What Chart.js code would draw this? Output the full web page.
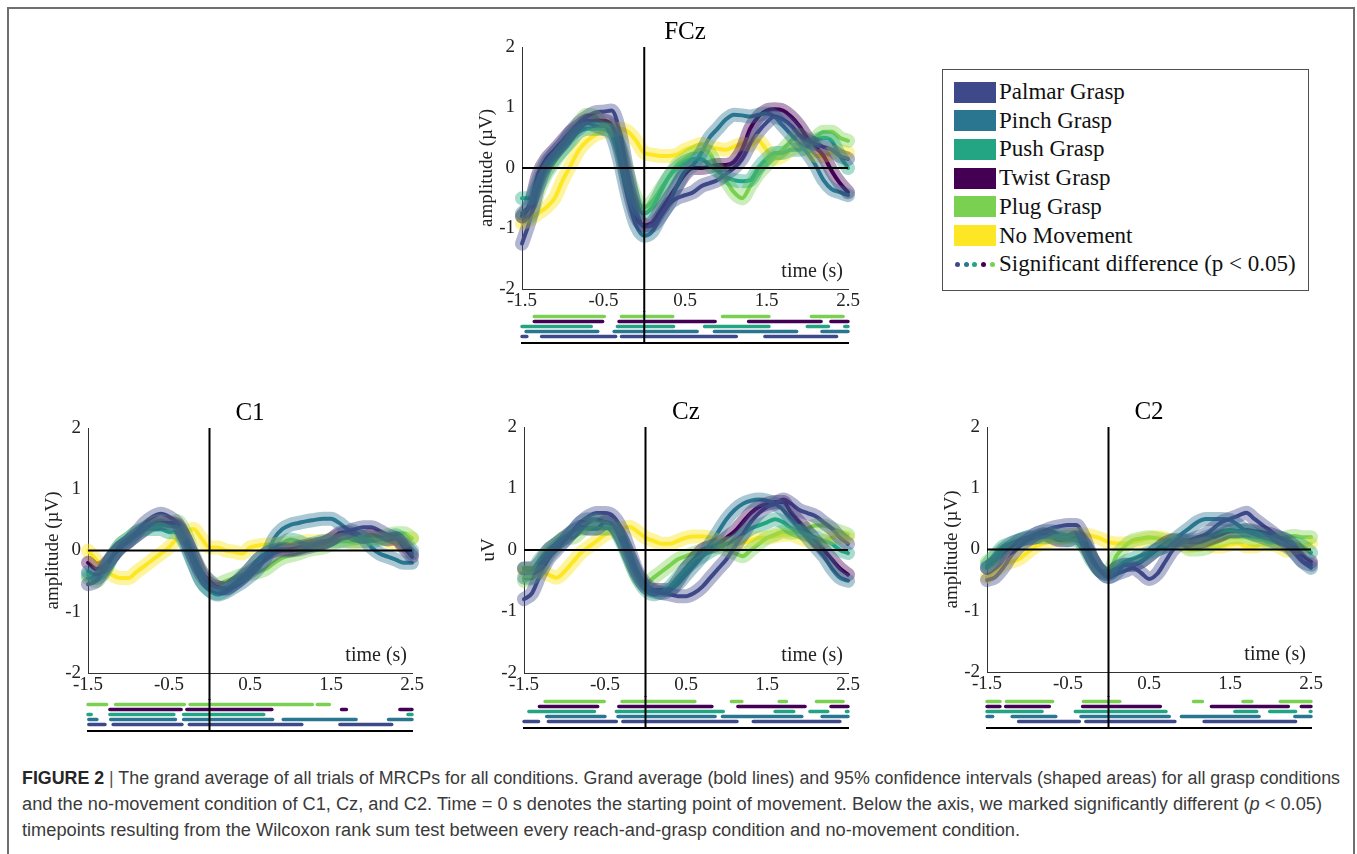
<!DOCTYPE html>
<html>
<head>
<meta charset="utf-8">
<title>MRCP grand averages</title>
<script src="https://cdn.jsdelivr.net/npm/chart.js@4.4.1/dist/chart.umd.min.js"></script>
<style>
  html, body { margin: 0; padding: 0; background: #fff; }
  body { width: 1357px; height: 854px; position: relative; overflow: hidden; }
  #frame { position: absolute; left: 7px; top: 7px; width: 1348px; height: 870px;
           border: 2px solid #6f6f6f; box-sizing: border-box; }
  canvas { position: absolute; }
  #legend { position: absolute; left: 942px; top: 69px; width: 367px; height: 222px;
            border: 1.5px solid #505050; box-sizing: border-box; background: #fff;
            font-family: "Liberation Serif", "Times New Roman", serif; color: #111; }
  .lg-row { position: absolute; left: 0; height: 28px; display: flex; align-items: center; white-space: nowrap; font-size: 23px; }
  .lg-sw { position: absolute; left: 11px; width: 42px; height: 21px; }
  .lg-tx { position: absolute; left: 56px; line-height: 28px; }
  .lg-dot { position: absolute; width: 5px; height: 5px; border-radius: 50%; }
  #caption { position: absolute; left: 22px; top: 765px;
             font-family: "Liberation Sans Narrow", "Liberation Sans", Arial, sans-serif;
             font-size: 18px; color: #3a3a3a; }
  .cl { position: absolute; left: 0; white-space: nowrap; transform-origin: 0 50%; line-height: 26px; }
  .cl b { color: #262626; }
  .cl .sep { font-weight: normal; color: #555; }
</style>
</head>
<body>
<div id="frame"></div>

<div id="legend"></div>

<div id="caption">
  <div class="cl" id="cl1" style="top:0px"><b>FIGURE 2</b> <span class="sep">|</span> The grand average of all trials of MRCPs for all conditions. Grand average (bold lines) and 95% confidence intervals (shaped areas) for all grasp conditions</div>
  <div class="cl" id="cl2" style="top:26px">and the no-movement condition of C1, Cz, and C2. Time = 0 s denotes the starting point of movement. Below the axis, we marked significantly different (<i>p</i> &lt; 0.05)</div>
  <div class="cl" id="cl3" style="top:52px">timepoints resulting from the Wilcoxon rank sum test between every reach-and-grasp condition and no-movement condition.</div>
</div>

<script>
// ---------- time base and axis ticks ----------
const TIME = [-1.5,-1.4,-1.3,-1.2,-1.1,-1.0,-0.9,-0.8,-0.7,-0.6,-0.5,-0.4,-0.3,-0.2,-0.1,0.0,
              0.1,0.2,0.3,0.4,0.5,0.6,0.7,0.8,0.9,1.0,1.1,1.2,1.3,1.4,1.5,1.6,1.7,1.8,1.9,2.0,
              2.1,2.2,2.3,2.4,2.5];
const X_TICKS = [-1.5, -0.5, 0.5, 1.5, 2.5];
const X_TICK_LABELS = ['-1.5', '-0.5', '0.5', '1.5', '2.5'];
const Y_TICKS = [-2, -1, 0, 1, 2];
const Y_TICK_LABELS = ['-2', '-1', '0', '1', '2'];

// ---------- conditions ----------
const CONDITIONS = ['Palmar Grasp', 'Pinch Grasp', 'Push Grasp', 'Twist Grasp', 'Plug Grasp', 'No Movement'];
const COND_COLORS = ['#3e4989', '#2a7690', '#23a584', '#440154', '#7ad151', '#fde725'];

// ---------- grand averages (µV) ----------
const FCZ_PALMAR = [-1.25,-0.85,-0.3,0.05,0.25,0.4,0.6,0.75,0.85,0.92,0.93,0.95,0.6,-0.1,-0.7,-0.97,-0.95,-0.8,-0.6,-0.5,-0.45,-0.4,-0.3,-0.25,-0.2,-0.1,0.0,0.15,0.4,0.6,0.75,0.85,0.8,0.7,0.55,0.45,0.4,0.35,0.3,0.2,0.15];
const FCZ_PINCH  = [-0.75,-0.6,-0.2,0.1,0.25,0.4,0.55,0.65,0.75,0.7,0.65,0.55,0.1,-0.5,-0.95,-1.12,-1.05,-0.8,-0.6,-0.3,-0.05,0.05,0.25,0.5,0.65,0.8,0.88,0.87,0.85,0.88,0.9,0.85,0.7,0.55,0.4,0.25,0.05,-0.2,-0.35,-0.4,-0.45];
const FCZ_PUSH   = [-0.5,-0.5,-0.3,-0.05,0.15,0.3,0.45,0.6,0.65,0.65,0.65,0.6,0.35,-0.2,-0.6,-0.75,-0.65,-0.4,-0.15,0.0,0.1,0.15,0.15,0.05,-0.05,-0.15,-0.2,-0.22,-0.2,0.0,0.15,0.25,0.25,0.3,0.3,0.35,0.45,0.5,0.45,0.2,0.0];
const FCZ_TWIST  = [-0.8,-0.6,-0.1,0.15,0.3,0.45,0.6,0.7,0.78,0.78,0.78,0.7,0.3,-0.3,-0.8,-0.95,-0.9,-0.7,-0.5,-0.3,-0.1,0.0,0.0,0.02,0.05,0.05,0.1,0.3,0.65,0.85,0.95,0.97,0.95,0.85,0.7,0.5,0.35,0.2,-0.05,-0.25,-0.4];
const FCZ_PLUG   = [-0.8,-0.8,-0.4,-0.1,0.1,0.3,0.5,0.75,0.88,0.85,0.72,0.7,0.4,-0.1,-0.5,-0.65,-0.55,-0.35,-0.15,0.05,0.15,0.25,0.3,0.25,0.0,-0.2,-0.4,-0.5,-0.3,-0.1,0.05,0.2,0.3,0.45,0.55,0.45,0.5,0.6,0.6,0.5,0.45];
const FCZ_NOMOVE = [-0.92,-0.85,-0.75,-0.65,-0.5,-0.2,0.05,0.3,0.45,0.55,0.6,0.62,0.65,0.6,0.45,0.25,0.22,0.2,0.2,0.22,0.3,0.35,0.4,0.35,0.32,0.3,0.35,0.4,0.38,0.45,0.3,0.15,0.2,0.3,0.35,0.3,0.2,0.2,0.25,0.28,0.25];

const C1_PALMAR = [-0.55,-0.5,-0.3,-0.1,0.05,0.15,0.3,0.45,0.55,0.6,0.55,0.45,0.2,-0.1,-0.35,-0.5,-0.6,-0.62,-0.55,-0.45,-0.35,-0.25,-0.15,-0.05,0.0,0.0,0.02,0.05,0.08,0.12,0.18,0.25,0.3,0.35,0.38,0.38,0.32,0.25,0.2,0.1,-0.05];
const C1_PINCH  = [-0.35,-0.4,-0.3,-0.1,0.05,0.15,0.25,0.35,0.42,0.42,0.4,0.38,0.15,-0.2,-0.5,-0.65,-0.72,-0.68,-0.6,-0.52,-0.42,-0.3,-0.1,0.2,0.35,0.42,0.45,0.48,0.5,0.52,0.52,0.45,0.35,0.3,0.2,0.05,-0.05,-0.1,-0.15,-0.2,-0.2];
const C1_PUSH   = [-0.4,-0.45,-0.35,-0.1,0.1,0.2,0.3,0.35,0.35,0.35,0.3,0.3,0.1,-0.2,-0.5,-0.65,-0.7,-0.65,-0.55,-0.42,-0.3,-0.15,-0.05,0.05,0.12,0.18,0.15,0.1,0.12,0.15,0.15,0.15,0.15,0.15,0.15,0.15,0.18,0.2,0.25,0.15,0.0];
const C1_TWIST  = [-0.2,-0.3,-0.25,-0.1,0.05,0.15,0.25,0.35,0.42,0.45,0.45,0.42,0.2,-0.1,-0.4,-0.55,-0.6,-0.62,-0.55,-0.45,-0.3,-0.15,-0.05,0.0,0.02,0.02,0.05,0.08,0.1,0.12,0.18,0.28,0.3,0.25,0.22,0.25,0.22,0.18,0.2,0.05,-0.1];
const C1_PLUG   = [-0.45,-0.5,-0.35,-0.1,0.1,0.2,0.3,0.38,0.45,0.48,0.45,0.48,0.3,-0.05,-0.35,-0.5,-0.55,-0.5,-0.45,-0.4,-0.38,-0.35,-0.3,-0.2,-0.12,-0.08,-0.05,0.0,0.03,0.05,0.1,0.15,0.18,0.2,0.22,0.2,0.2,0.25,0.28,0.28,0.2];
const C1_NOMOVE = [0.0,-0.15,-0.3,-0.4,-0.45,-0.45,-0.35,-0.25,-0.15,-0.05,0.05,0.2,0.3,0.35,0.2,0.05,0.05,0.0,-0.02,-0.05,0.05,0.08,0.1,0.1,0.12,0.12,0.12,0.15,0.15,0.15,0.18,0.18,0.15,0.12,0.15,0.2,0.2,0.15,0.12,0.15,0.2];

const CZ_PALMAR = [-0.8,-0.7,-0.4,-0.15,0.0,0.15,0.3,0.45,0.55,0.6,0.6,0.55,0.35,0.0,-0.35,-0.55,-0.65,-0.7,-0.72,-0.75,-0.75,-0.7,-0.6,-0.45,-0.3,-0.15,0.05,0.25,0.45,0.6,0.7,0.75,0.82,0.75,0.65,0.6,0.55,0.45,0.35,0.2,0.1];
const CZ_PINCH  = [-0.45,-0.45,-0.3,-0.1,0.05,0.15,0.3,0.45,0.5,0.5,0.45,0.4,0.2,-0.1,-0.4,-0.6,-0.68,-0.7,-0.65,-0.55,-0.4,-0.25,-0.1,0.1,0.3,0.5,0.65,0.75,0.8,0.82,0.8,0.75,0.65,0.5,0.35,0.2,0.05,-0.1,-0.3,-0.45,-0.5];
const CZ_PUSH   = [-0.3,-0.3,-0.15,0.0,0.1,0.2,0.3,0.35,0.35,0.35,0.35,0.35,0.15,-0.15,-0.45,-0.65,-0.72,-0.68,-0.6,-0.45,-0.3,-0.18,-0.1,-0.02,0.05,0.1,0.15,0.25,0.35,0.4,0.45,0.5,0.45,0.35,0.3,0.25,0.2,0.15,0.1,0.0,-0.05];
const CZ_TWIST  = [-0.3,-0.3,-0.2,0.0,0.1,0.2,0.3,0.38,0.35,0.35,0.45,0.4,0.2,-0.1,-0.4,-0.6,-0.65,-0.65,-0.65,-0.5,-0.3,-0.15,0.0,0.05,0.1,0.2,0.3,0.45,0.6,0.7,0.75,0.78,0.78,0.6,0.45,0.3,0.15,0.0,-0.15,-0.3,-0.4];
const CZ_PLUG   = [-0.5,-0.45,-0.3,-0.05,0.1,0.2,0.2,0.3,0.45,0.48,0.45,0.4,0.2,-0.15,-0.45,-0.55,-0.45,-0.35,-0.25,-0.15,-0.1,-0.05,0.0,0.05,0.05,0.0,-0.05,-0.1,0.0,0.1,0.2,0.25,0.3,0.28,0.3,0.35,0.4,0.4,0.35,0.3,0.25];
const CZ_NOMOVE = [-0.35,-0.35,-0.35,-0.4,-0.45,-0.35,-0.2,-0.05,0.05,0.15,0.25,0.3,0.35,0.38,0.3,0.2,0.15,0.1,0.1,0.15,0.2,0.22,0.22,0.2,0.15,0.1,0.1,0.12,0.15,0.2,0.2,0.22,0.25,0.25,0.2,0.15,0.1,0.15,0.2,0.22,0.2];

const C2_PALMAR = [-0.5,-0.45,-0.3,-0.1,0.05,0.15,0.25,0.3,0.35,0.38,0.4,0.4,0.2,-0.15,-0.35,-0.45,-0.4,-0.35,-0.3,-0.38,-0.48,-0.4,-0.2,0.0,0.1,0.15,0.2,0.25,0.35,0.45,0.5,0.55,0.6,0.5,0.4,0.3,0.2,0.1,-0.05,-0.2,-0.25];
const C2_PINCH  = [-0.3,-0.2,0.0,0.1,0.15,0.2,0.25,0.3,0.3,0.25,0.25,0.25,0.1,-0.15,-0.35,-0.45,-0.38,-0.25,-0.25,-0.2,-0.1,0.0,0.05,0.15,0.25,0.35,0.45,0.5,0.5,0.5,0.48,0.4,0.3,0.25,0.2,0.15,0.1,0.05,-0.05,-0.2,-0.3];
const C2_PUSH   = [-0.25,-0.1,0.05,0.1,0.15,0.2,0.2,0.2,0.2,0.18,0.15,0.15,0.05,-0.2,-0.35,-0.4,-0.3,-0.2,-0.15,-0.1,-0.05,0.0,0.05,0.1,0.15,0.15,0.15,0.2,0.25,0.3,0.32,0.3,0.3,0.28,0.25,0.2,0.2,0.15,0.1,0.05,-0.05];
const C2_TWIST  = [-0.3,-0.2,-0.05,0.05,0.15,0.18,0.2,0.25,0.2,0.15,0.15,0.2,0.1,-0.15,-0.35,-0.4,-0.3,-0.25,-0.25,-0.2,-0.1,0.0,0.1,0.15,0.15,0.12,0.12,0.15,0.2,0.25,0.3,0.3,0.32,0.3,0.28,0.25,0.2,0.15,0.05,-0.1,-0.2];
const C2_PLUG   = [-0.2,-0.1,0.0,0.05,0.1,0.15,0.2,0.25,0.25,0.2,0.2,0.2,0.05,-0.15,-0.35,-0.35,-0.1,0.05,0.15,0.18,0.2,0.18,0.15,0.15,0.1,0.0,0.0,0.02,0.1,0.15,0.2,0.2,0.2,0.15,0.15,0.1,0.15,0.2,0.22,0.2,0.2];
const C2_NOMOVE = [-0.45,-0.35,-0.25,-0.2,-0.15,-0.05,0.05,0.1,0.15,0.18,0.22,0.25,0.25,0.22,0.18,0.12,0.1,0.1,0.12,0.15,0.18,0.2,0.18,0.12,0.08,0.05,0.08,0.1,0.05,0.05,0.08,0.1,0.05,0.05,0.08,0.08,0.05,-0.02,0.02,0.05,0.1];

// ---------- significant intervals vs. no movement (s), [start, end] ----------
const FCZ_SIG_PLUG   = [[-1.35,-0.49],[-0.28,0.35],[0.96,1.53],[2.05,2.44]];
const FCZ_SIG_TWIST  = [[-1.35,-0.51],[-0.31,0.87],[1.28,2.17],[2.29,2.5]];
const FCZ_SIG_PUSH   = [[-1.5,-0.65],[-0.33,0.36],[0.74,1.53],[2.0,2.26],[2.46,2.5]];
const FCZ_SIG_PINCH  = [[-1.45,-0.57],[-0.37,0.65],[0.86,1.87],[2.18,2.5]];
const FCZ_SIG_PALMAR = [[-1.5,-1.44],[-1.26,-0.35],[-0.28,1.13],[1.48,2.36]];

const C1_SIG_PLUG   = [[-1.5,-1.27],[-1.16,-0.31],[-0.24,1.27],[1.33,1.48]];
const C1_SIG_TWIST  = [[-1.23,-0.35],[-0.28,0.77],[1.63,1.69],[2.35,2.5]];
const C1_SIG_PUSH   = [[-1.5,-1.46],[-1.23,-0.44],[-0.32,0.67],[2.45,2.5]];
const C1_SIG_PINCH  = [[-1.49,-1.39],[-1.22,-0.42],[-0.32,0.78],[0.91,1.81],[2.21,2.5]];
const C1_SIG_PALMAR = [[-1.49,-1.29],[-1.19,-0.34],[-0.25,1.14],[1.61,2.25]];

const CZ_SIG_PLUG   = [[-1.24,-0.51],[-0.29,0.61],[1.06,1.19],[1.65,1.74],[2.11,2.44]];
const CZ_SIG_TWIST  = [[-1.31,-0.59],[-0.33,0.82],[1.14,1.97],[2.29,2.5]];
const CZ_SIG_PUSH   = [[-1.44,-0.63],[-0.36,0.96],[1.6,1.83],[2.03,2.25],[2.48,2.5]];
const CZ_SIG_PINCH  = [[-1.22,-0.5],[-0.34,0.86],[0.95,1.93],[2.18,2.5]];
const CZ_SIG_PALMAR = [[-1.5,-1.32],[-1.2,-0.36],[-0.28,1.13],[1.33,2.4]];

const C2_SIG_PLUG   = [[-1.5,-1.34],[-1.26,-0.69],[-0.31,0.14],[1.05,1.16],[1.66,1.77],[2.12,2.5]];
const C2_SIG_TWIST  = [[-1.5,-1.34],[-1.27,-0.73],[-0.32,0.64],[1.27,2.22],[2.38,2.5]];
const C2_SIG_PUSH   = [[-1.5,-0.82],[-0.41,0.71],[1.56,1.83],[1.99,2.31],[2.49,2.5]];
const C2_SIG_PINCH  = [[-1.5,-1.43],[-1.19,-0.65],[-0.34,0.75],[0.9,1.86],[2.3,2.5]];
const C2_SIG_PALMAR = [[-1.11,-0.36],[-0.28,0.82],[1.18,2.31]];

// ---------- panel assembly ----------
const SERIF = '"Liberation Serif", "Times New Roman", serif';
const AXIS_GREY = '#333333';

const PANELS = [
  { name: 'FCz', yTitle: 'amplitude (\u00b5V)', L: 522, R: 848, T: 47,  B: 289, row1: 317,
    series: [FCZ_PALMAR, FCZ_PINCH, FCZ_PUSH, FCZ_TWIST, FCZ_PLUG, FCZ_NOMOVE],
    sig: { plug: FCZ_SIG_PLUG, twist: FCZ_SIG_TWIST, push: FCZ_SIG_PUSH, pinch: FCZ_SIG_PINCH, palmar: FCZ_SIG_PALMAR } },
  { name: 'C1', yTitle: 'amplitude (\u00b5V)', L: 88, R: 412, T: 428, B: 673, row1: 705,
    series: [C1_PALMAR, C1_PINCH, C1_PUSH, C1_TWIST, C1_PLUG, C1_NOMOVE],
    sig: { plug: C1_SIG_PLUG, twist: C1_SIG_TWIST, push: C1_SIG_PUSH, pinch: C1_SIG_PINCH, palmar: C1_SIG_PALMAR } },
  { name: 'Cz', yTitle: 'uV', L: 524, R: 848, T: 427, B: 673, row1: 702,
    series: [CZ_PALMAR, CZ_PINCH, CZ_PUSH, CZ_TWIST, CZ_PLUG, CZ_NOMOVE],
    sig: { plug: CZ_SIG_PLUG, twist: CZ_SIG_TWIST, push: CZ_SIG_PUSH, pinch: CZ_SIG_PINCH, palmar: CZ_SIG_PALMAR } },
  { name: 'C2', yTitle: 'amplitude (\u00b5V)', L: 987, R: 1311, T: 427, B: 672, row1: 702,
    series: [C2_PALMAR, C2_PINCH, C2_PUSH, C2_TWIST, C2_PLUG, C2_NOMOVE],
    sig: { plug: C2_SIG_PLUG, twist: C2_SIG_TWIST, push: C2_SIG_PUSH, pinch: C2_SIG_PINCH, palmar: C2_SIG_PALMAR } }
];

// rows of the significance strip, top to bottom
const SIG_ROWS = [
  { key: 'plug', color: COND_COLORS[4] },
  { key: 'twist', color: COND_COLORS[3] },
  { key: 'push', color: COND_COLORS[2] },
  { key: 'pinch', color: COND_COLORS[1] },
  { key: 'palmar', color: COND_COLORS[0] }
];

function rgba(hex, a) {
  const n = parseInt(hex.slice(1), 16);
  return `rgba(${(n >> 16) & 255},${(n >> 8) & 255},${n & 255},${a})`;
}

function makeCanvas(left, top, width, height) {
  const c = document.createElement('canvas');
  c.width = width; c.height = height;
  c.style.left = left + 'px'; c.style.top = top + 'px';
  c.style.width = width + 'px'; c.style.height = height + 'px';
  document.body.appendChild(c);
  return c;
}

// zero lines, panel title and the in-axes "time (s)" label
const panelDecor = {
  id: 'panelDecor',
  afterDatasetsDraw(chart, args, opts) {
    const { ctx, chartArea: a, scales: { x, y } } = chart;
    const y0 = y.getPixelForValue(0), x0 = x.getPixelForValue(0);
    ctx.save();
    ctx.strokeStyle = '#000'; ctx.lineWidth = 2;
    ctx.beginPath(); ctx.moveTo(a.left, y0); ctx.lineTo(a.right, y0); ctx.stroke();
    ctx.beginPath(); ctx.moveTo(x0, a.top); ctx.lineTo(x0, chart.height); ctx.stroke();
    ctx.fillStyle = '#000';
    ctx.font = '25px ' + SERIF; ctx.textAlign = 'center'; ctx.textBaseline = 'middle';
    ctx.fillText(opts.title, (a.left + a.right) / 2, a.top - 15);
    ctx.fillStyle = '#222';
    ctx.font = '20px ' + SERIF; ctx.textAlign = 'right';
    ctx.fillText('time (s)', a.right - 5, a.bottom - 17);
    ctx.restore();
  }
};

// vertical onset marker continued through the significance strip
const sigDecor = {
  id: 'sigDecor',
  afterDatasetsDraw(chart) {
    const { ctx, chartArea: a, scales: { x } } = chart;
    const x0 = x.getPixelForValue(0);
    ctx.save();
    ctx.strokeStyle = '#000'; ctx.lineWidth = 2;
    ctx.beginPath(); ctx.moveTo(x0, 0); ctx.lineTo(x0, a.bottom); ctx.stroke();
    ctx.restore();
  }
};

const PAD_L = 2, Y_AXIS_W = 50, PAD_R = 20, PAD_T = 30;
const SIG_PAD = 3, SIG_STEP = 5, SIG_MIN = 0.5, SIG_MAX = 6.3;

PANELS.forEach(p => {
  // ---- main axes ----
  const sigTop = p.row1 - 6;
  const xAxisH = sigTop + 1 - p.B;
  const cw = PAD_L + Y_AXIS_W + (p.R - p.L) + PAD_R;
  const ch = PAD_T + (p.B - p.T) + xAxisH;
  const canvas = makeCanvas(p.L - Y_AXIS_W - PAD_L, p.T - PAD_T, cw, ch);

  const bands = p.series.map((vals, i) => ({
    label: CONDITIONS[i] + ' CI',
    data: TIME.map((t, k) => ({ x: t, y: vals[k] })),
    borderColor: rgba(COND_COLORS[i], i === 5 ? 0.45 : 0.4),
    borderWidth: 14,
    borderCapStyle: 'round', borderJoinStyle: 'round',
    cubicInterpolationMode: 'monotone',
    pointRadius: 0, fill: false, clip: 8
  }));
  const lines = p.series.map((vals, i) => ({
    label: CONDITIONS[i],
    data: TIME.map((t, k) => ({ x: t, y: vals[k] })),
    borderColor: COND_COLORS[i],
    borderWidth: 4,
    borderCapStyle: 'round', borderJoinStyle: 'round',
    cubicInterpolationMode: 'monotone',
    pointRadius: 0, fill: false, clip: 4
  }));

  new Chart(canvas, {
    type: 'line',
    data: { datasets: bands.concat(lines) },
    options: {
      responsive: false, animation: false, devicePixelRatio: 1,
      layout: { padding: { left: PAD_L, right: PAD_R, top: PAD_T, bottom: 0 } },
      plugins: { legend: { display: false }, tooltip: { enabled: false }, panelDecor: { title: p.name } },
      scales: {
        x: {
          type: 'linear', min: -1.5, max: 2.5,
          afterBuildTicks: s => { s.ticks = X_TICKS.map(v => ({ value: v })); },
          afterFit: s => { s.height = xAxisH; },
          grid: { display: false, drawTicks: false },
          border: { display: true, color: AXIS_GREY, width: 1 },
          ticks: { font: { family: SERIF, size: 19 }, color: '#222', padding: 1, maxRotation: 0, autoSkip: false,
                   callback: (v, i) => X_TICK_LABELS[i] }
        },
        y: {
          type: 'linear', min: -2, max: 2,
          afterBuildTicks: s => { s.ticks = Y_TICKS.map(v => ({ value: v })); },
          afterFit: s => { s.width = Y_AXIS_W; },
          grid: { display: false, drawTicks: false },
          border: { display: true, color: AXIS_GREY, width: 1 },
          title: { display: true, text: p.yTitle, font: { family: SERIF, size: 19 }, color: '#222', padding: { top: 4, bottom: 0 } },
          ticks: { font: { family: SERIF, size: 19 }, color: '#222', padding: 7,
                   callback: (v, i) => Y_TICK_LABELS[i] }
        }
      }
    },
    plugins: [panelDecor]
  });

  // ---- significance strip ----
  const sw = SIG_PAD + (p.R - p.L) + SIG_PAD;
  const sh = SIG_PAD + Math.round((SIG_MAX - SIG_MIN) * SIG_STEP) + SIG_PAD;
  const sCanvas = makeCanvas(p.L - SIG_PAD, sigTop, sw, sh);
  const sigSets = SIG_ROWS.map((r, ri) => {
    const pts = [];
    p.sig[r.key].forEach((seg, si, arr) => {
      pts.push({ x: seg[0], y: ri + 1 }, { x: seg[1], y: ri + 1 });
      if (si < arr.length - 1) pts.push({ x: (seg[1] + arr[si + 1][0]) / 2, y: null });
    });
    return { label: r.key, data: pts, borderColor: r.color, borderWidth: 3.5, borderCapStyle: 'round',
             pointRadius: 0, spanGaps: false, tension: 0, clip: false };
  });
  new Chart(sCanvas, {
    type: 'line',
    data: { datasets: sigSets },
    options: {
      responsive: false, animation: false, devicePixelRatio: 1,
      layout: { padding: { left: SIG_PAD, right: SIG_PAD, top: SIG_PAD, bottom: SIG_PAD } },
      plugins: { legend: { display: false }, tooltip: { enabled: false } },
      scales: {
        x: { type: 'linear', min: -1.5, max: 2.5, display: true,
             afterFit: s => { s.height = 0; },
             grid: { display: false, drawTicks: false },
             ticks: { display: false },
             border: { display: true, color: '#000', width: 2 } },
        y: { type: 'linear', min: SIG_MIN, max: SIG_MAX, reverse: true, display: false }
      }
    },
    plugins: [sigDecor]
  });
});

// ---------- legend ----------
(function buildLegend() {
  const box = document.getElementById('legend');
  const rowTop0 = 8, rowStep = 28.7;
  CONDITIONS.forEach((name, i) => {
    const row = document.createElement('div');
    row.className = 'lg-row';
    row.style.top = (rowTop0 + i * rowStep) + 'px';
    row.innerHTML = `<div class="lg-sw" style="background:${COND_COLORS[i]};top:3.5px"></div><div class="lg-tx">${name}</div>`;
    box.appendChild(row);
  });
  const row = document.createElement('div');
  row.className = 'lg-row';
  row.style.top = (rowTop0 + 6 * rowStep) + 'px';
  const dotX = [12, 20.5, 29, 38, 47];
  let html = '';
  dotX.forEach((dx, k) => {
    html += `<div class="lg-dot" style="left:${dx}px;top:11.5px;background:${COND_COLORS[k]}"></div>`;
  });
  html += '<div class="lg-tx">Significant difference (p &lt; 0.05)</div>';
  row.innerHTML = html;
  box.appendChild(row);
})();

// ---------- caption line widths ----------
(function fitCaption() {
  const targets = { cl1: 1318, cl2: 1300, cl3: 998 };
  Object.keys(targets).forEach(id => {
    const el = document.getElementById(id);
    const w = el.getBoundingClientRect().width;
    el.style.transform = `scaleX(${targets[id] / w})`;
  });
})();
</script>
</body>
</html>
